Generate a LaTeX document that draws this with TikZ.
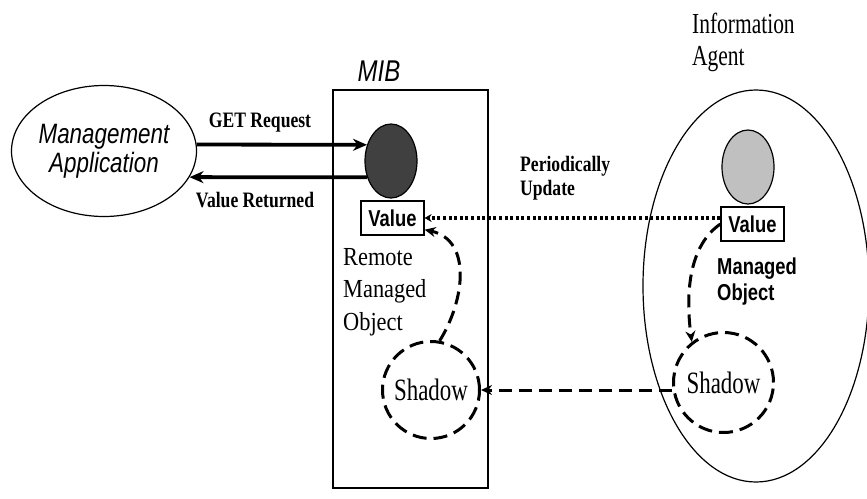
\documentclass[tikz,border=0pt]{standalone}
\usepackage{fontspec}
\usetikzlibrary{shapes.geometric,arrows.meta}
% narrow cuts of the text faces
\newfontfamily\serifwide[FakeStretch=0.86]{Liberation Serif}
\newfontfamily\serifnarrow[FakeStretch=0.74]{Liberation Serif}
\newfontfamily\serifbold[FakeStretch=0.8]{Liberation Serif}
\newfontfamily\sansnarrow[FakeStretch=0.8]{Liberation Sans}
\definecolor{objdark}{HTML}{404040}
\definecolor{objlight}{HTML}{C0C0C0}
\tikzset{
  oval/.style={ellipse,draw,line width=1.2pt,inner sep=0pt},
  valbox/.style={draw,line width=1.2pt,minimum width=63pt,minimum height=34pt,inner sep=0pt,
    font=\sansnarrow\bfseries\fontsize{23}{23}\selectfont},
  shadowcirc/.style={circle,draw,line width=3pt,dash pattern=on 14pt off 7pt,inner sep=0pt,
    font=\serifnarrow\fontsize{31}{31}\selectfont},
  req/.style={line width=3.8pt,-{Stealth[length=14pt,width=12pt]}},
  flow/.style={line width=3pt,dash pattern=on 13pt off 7pt,-{Stealth[length=11pt,width=10pt]}},
  sync/.style={line width=3.2pt,dash pattern=on 3pt off 2.6pt,-{Stealth[length=7pt,width=8pt]}},
  lbl/.style={inner sep=0pt},
  boldlbl/.style={lbl,font=\serifbold\bfseries\fontsize{22}{24}\selectfont},
  seriflbl/.style={lbl,font=\serifwide\fontsize{26}{32.5}\selectfont,align=left},
}
\begin{document}
\begin{tikzpicture}[x=1pt,y=-1pt]
\useasboundingbox (0,0) rectangle (867,498);
\clip (0,0) rectangle (867,498);

% management application
\node[oval,minimum width=185pt,minimum height=131pt,align=center,
  font=\sansnarrow\itshape\fontsize{28}{29}\selectfont] (app) at (104,151)
  {Management\\Application};

% MIB (multi-line labels are placed by the baseline of their last line)
\node[draw,line width=1.2pt,minimum width=155pt,minimum height=398pt,inner sep=0pt] (mib) at (410.5,289) {};
\node[lbl,anchor=base,font=\sansnarrow\itshape\fontsize{30}{30}\selectfont] (mibl) at (379,81) {MIB};
\node[oval,fill=objdark,minimum width=52pt,minimum height=74pt] (dark) at (391,161) {};
\node[valbox] (lval) at (392.5,218) {Value};
\node[seriflbl,anchor=base west] (rmo) at (343,330) {Remote\\Managed\\Object};
\node[shadowcirc,minimum size=97pt] (shadowL) at (431,390) {Shadow};

% information agent
\node[oval,minimum width=226pt,minimum height=392pt] (agent) at (756,286) {};
\node[lbl,anchor=base west,align=left,font=\serifnarrow\fontsize{29}{32}\selectfont] (agentl) at (692,65) {Information\\Agent};
\node[oval,fill=objlight,minimum width=52pt,minimum height=74pt] (light) at (748,167) {};
\node[valbox] (rval) at (752.5,224) {Value};
\node[lbl,anchor=base west,align=left,font=\sansnarrow\bfseries\fontsize{23}{26}\selectfont] (mo) at (717,300) {Managed\\Object};
\node[shadowcirc,minimum size=100pt] (shadowR) at (723.5,382.5) {Shadow};

% request and reply
\draw[req] (app.4) -- (dark.146);
\draw[req] (dark.214) -- (app.-17);
\node[boldlbl,anchor=base] (getl) at (260,127) {GET Request};
\node[boldlbl,anchor=base] (retl) at (255,207) {Value Returned};

% periodic update of the remote copy
\draw[sync] (rval.west |- lval.east) -- (lval.east);
\node[boldlbl,anchor=base west,align=left] (updl) at (520,195) {Periodically\\Update};

% shadow flows
\draw[flow] (rval.west) .. controls (690,245) and (685,290) .. (shadowR.128);
\draw[flow] (shadowR.west |- shadowL.east) -- (shadowL.east);
\draw[flow] (shadowL.80) .. controls (465,300) and (472,240) .. (lval.-20);
\end{tikzpicture}
\end{document}
